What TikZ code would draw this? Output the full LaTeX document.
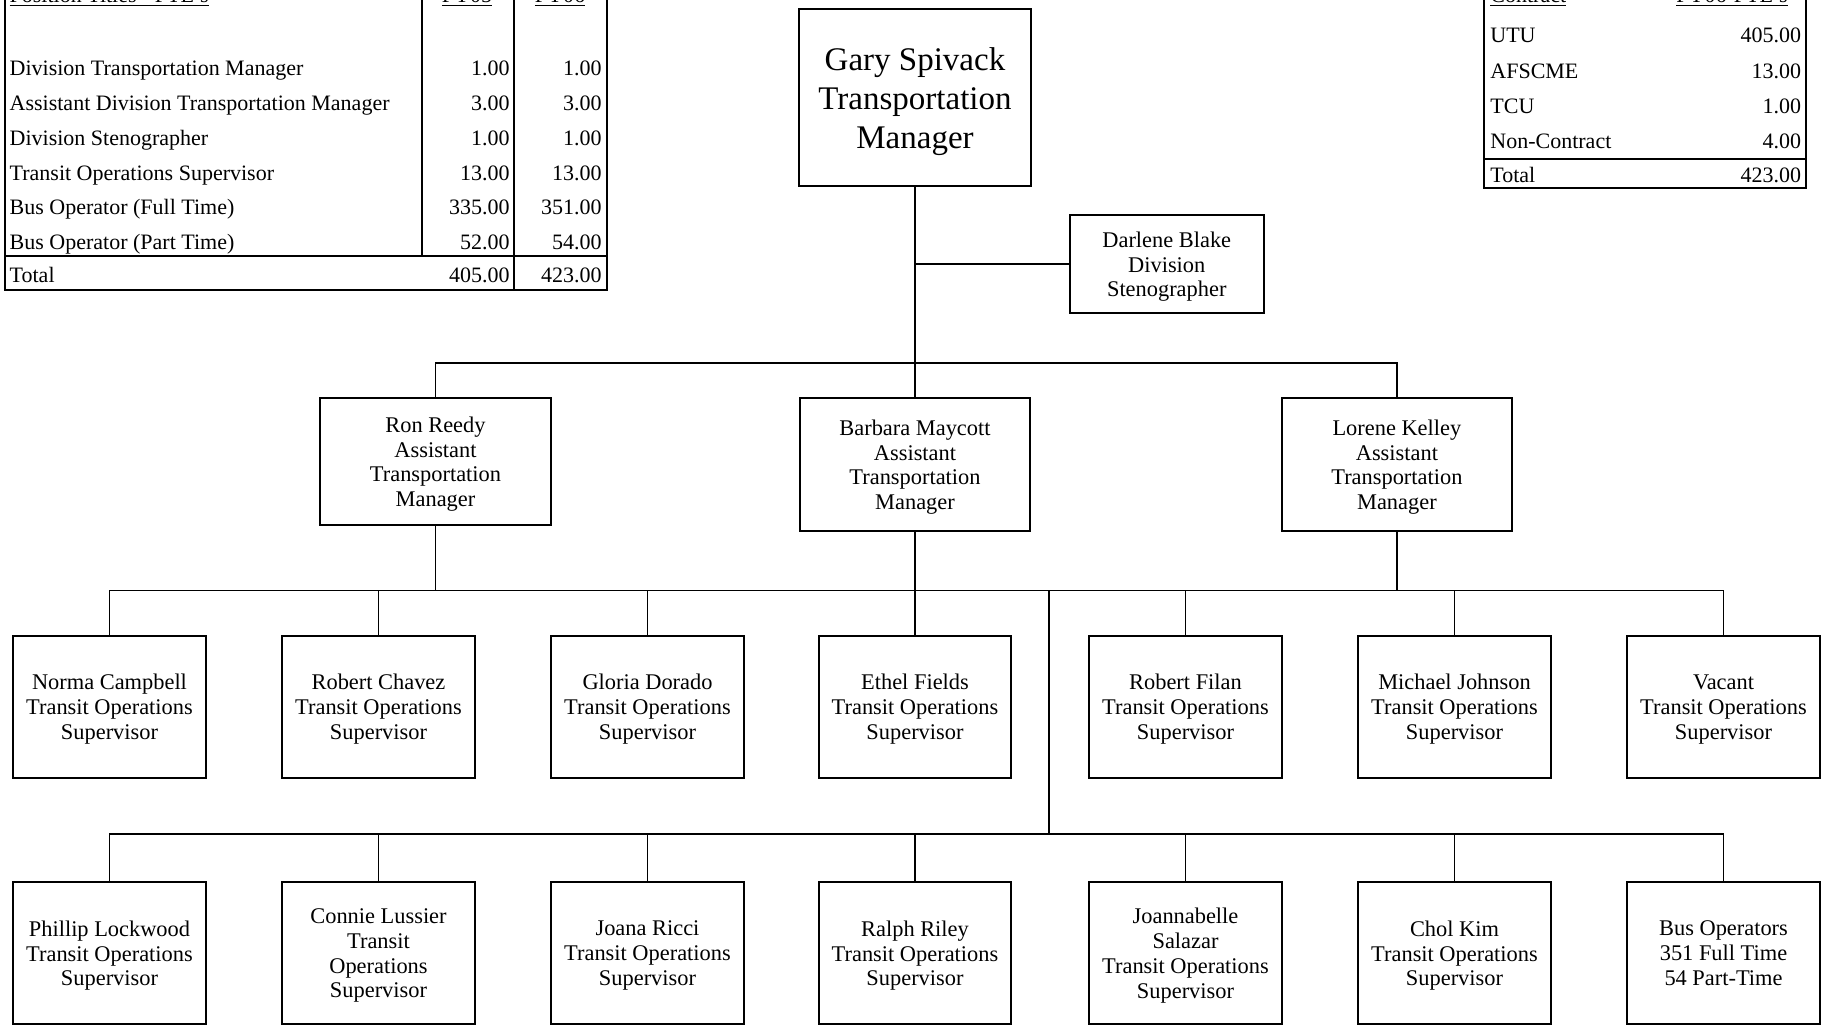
\documentclass[tikz,border=0pt]{standalone}
\usepackage{fontspec}
\setmainfont{Liberation Serif}
\newcommand{\bxfont}{\fontsize{11.2}{12.4}\selectfont}
\newcommand{\bgfont}{\fontsize{16.5}{19.4}\selectfont}
\newcommand{\tbfont}{\fontsize{11}{13}\selectfont}
\begin{document}
\begin{tikzpicture}[x=0.5pt,y=-0.5pt,
  box/.style={draw,line width=1pt,align=center,inner sep=0pt,font=\bxfont,text depth=0pt},
  supbox/.style={box,minimum width=96.4pt,minimum height=71pt},
  astbox/.style={box,minimum width=115.3pt},
  conn/.style={line width=0.9pt},
  tline/.style={line width=1pt},
  ttext/.style={anchor=base west,inner sep=0pt,font=\tbfont},
  tnum/.style={anchor=base east,inner sep=0pt,font=\tbfont},
  thead/.style={anchor=base,inner sep=0pt,font=\tbfont},
]
\useasboundingbox (0,0) rectangle (1826,1026);

% ---------- left table ----------
\draw[tline] (4.7,-10) -- (4.7,290) -- (606.7,290) -- (606.7,-10);
\draw[tline] (4.7,256) -- (606.7,256);
\draw[tline] (421.5,-10) -- (421.5,256);
\draw[tline] (513.5,-10) -- (513.5,290);
\node[ttext] (lh) at (9.3,2.5) {\underline{Position Titles - FTE's}};
\node[thead] (lh1) at (467,2.5) {\underline{FY05}};
\node[thead] (lh2) at (560,2.5) {\underline{FY06}};
\node[ttext] (l1) at (9.3,76) {Division Transportation Manager};
\node[ttext] (l2) at (9.3,110.75) {Assistant Division Transportation Manager};
\node[ttext] (l3) at (9.3,145.5) {Division Stenographer};
\node[ttext] (l4) at (9.3,180.25) {Transit Operations Supervisor};
\node[ttext] (l5) at (9.3,215) {Bus Operator (Full Time)};
\node[ttext] (l6) at (9.3,249.75) {Bus Operator (Part Time)};
\node[ttext] (l7) at (9.3,283) {Total};
\foreach \y/\a/\b [count=\i] in {76/1.00/1.00,110.75/3.00/3.00,145.5/1.00/1.00,180.25/13.00/13.00,215/335.00/351.00,249.75/52.00/54.00,283/405.00/423.00}{
  \node[tnum] (la\i) at (510,\y) {\a};
  \node[tnum] (lb\i) at (602,\y) {\b};
}

% ---------- right table ----------
\draw[tline] (1483.5,-10) -- (1483.5,188.5) -- (1806,188.5) -- (1806,-10);
\draw[tline] (1483.5,159.5) -- (1806,159.5);
\node[ttext] (rh) at (1490,2.5) {\underline{Contract}};
\node[tnum] (rh2) at (1788,2.5) {\underline{FY06-FTE's}};
\foreach \y/\a/\b [count=\i] in {42.3/UTU/405.00,78.3/AFSCME/13.00,113.3/TCU/1.00,148.3/Non-Contract/4.00,183/Total/423.00}{
  \node[ttext] (ra\i) at (1490,\y) {\a};
  \node[tnum] (rb\i) at (1801.5,\y) {\b};
}

% ---------- org chart ----------
\node[box,minimum width=115.8pt,minimum height=88.5pt,font=\bgfont] (gary) at (915,97.8) {Gary Spivack\\Transportation\\Manager};
\node[box,minimum width=96.75pt,minimum height=48.75pt] (darlene) at (1166.75,264.25) {Darlene Blake\\Division\\Stenographer};

\node[astbox,minimum height=63.5pt] (ron) at (435.5,461.75) {Ron Reedy\\Assistant\\Transportation\\Manager};
\node[astbox,minimum height=66.4pt] (barbara) at (915,464.65) {Barbara Maycott\\Assistant\\Transportation\\Manager};
\node[astbox,minimum height=66.4pt] (lorene) at (1396.9,464.65) {Lorene Kelley\\Assistant\\Transportation\\Manager};

\node[supbox] (e1) at (109.5,706.9) {Norma Campbell\\Transit Operations\\Supervisor};
\node[supbox] (e2) at (378.5,706.9) {Robert Chavez\\Transit Operations\\Supervisor};
\node[supbox] (e3) at (647.5,706.9) {Gloria Dorado\\Transit Operations\\Supervisor};
\node[supbox] (e4) at (915,706.9) {Ethel Fields\\Transit Operations\\Supervisor};
\node[supbox] (e5) at (1185.5,706.9) {Robert Filan\\Transit Operations\\Supervisor};
\node[supbox] (e6) at (1454.5,706.9) {Michael Johnson\\Transit Operations\\Supervisor};
\node[supbox] (e7) at (1723.5,706.9) {Vacant\\Transit Operations\\Supervisor};

\node[supbox] (f1) at (109.5,953.35) {Phillip Lockwood\\Transit Operations\\Supervisor};
\node[supbox] (f2) at (378.5,953.35) {Connie Lussier\\Transit\\Operations\\Supervisor};
\node[supbox] (f3) at (647.5,953.35) {Joana Ricci\\Transit Operations\\Supervisor};
\node[supbox] (f4) at (915,953.35) {Ralph Riley\\Transit Operations\\Supervisor};
\node[supbox] (f5) at (1185.5,953.35) {Joannabelle\\Salazar\\Transit Operations\\Supervisor};
\node[supbox] (f6) at (1454.5,953.35) {Chol Kim\\Transit Operations\\Supervisor};
\node[supbox] (f7) at (1723.5,953.35) {Bus Operators\\351 Full Time\\54 Part-Time};

\coordinate (bar1) at (0,363.3);
\coordinate (bar2) at (0,590.4);
\coordinate (bar3) at (0,833.8);
\coordinate (jn) at (1049.2,590.4);

\draw[conn] (gary.south) -- (barbara.north);
\draw[conn] (darlene.west) -- (darlene.west -| gary.south);
\draw[conn] (ron.north) -- (ron.north |- bar1) -- (lorene.north |- bar1) -- (lorene.north);
\draw[conn] (ron.south) -- (ron.south |- bar2);
\draw[conn] (lorene.south) -- (lorene.south |- bar2);
\draw[conn] (barbara.south) -- (e4.north);
\draw[conn] (e1.north) -- (e1.north |- bar2) -- (e7.north |- bar2) -- (e7.north);
\foreach \n in {e2,e3,e5,e6}{\draw[conn] (\n.north) -- (\n.north |- bar2);}
\draw[conn] (jn) -- (jn |- bar3);
\draw[conn] (f1.north) -- (f1.north |- bar3) -- (f7.north |- bar3) -- (f7.north);
\foreach \n in {f2,f3,f4,f5,f6}{\draw[conn] (\n.north) -- (\n.north |- bar3);}
\end{tikzpicture}
\end{document}
